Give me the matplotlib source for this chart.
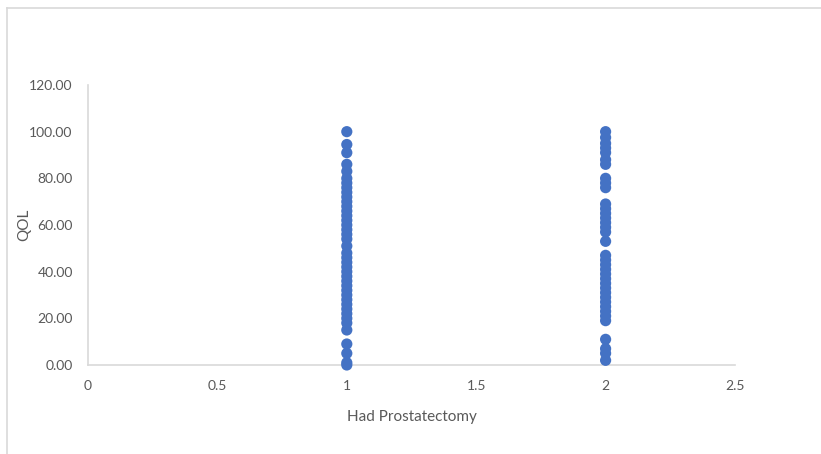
import matplotlib.pyplot as plt
from matplotlib.lines import Line2D

group1_qol = [100, 94.5, 91, 86, 83, 80, 78, 76, 74, 72, 70, 68, 66, 64, 62, 60, 58,
              56, 54, 51, 48, 46, 44, 42, 40, 38, 36, 34, 32, 30, 28, 26, 24, 22, 20,
              18, 15, 9, 5, 1, 0]
group2_qol = [100, 97.5, 95, 93, 91, 88, 86, 80, 78, 76, 69, 67, 65, 63, 61, 59, 57,
              53, 47, 45, 43, 41, 39, 37, 35, 33, 31, 29, 27, 25, 23, 21, 19, 11, 7,
              5, 2]
x_ticks = [0, 0.5, 1, 1.5, 2, 2.5]
y_ticks = [0, 20, 40, 60, 80, 100, 120]

plt.rcParams['font.family'] = ['Lato', 'DejaVu Sans']

fig = plt.figure(figsize=(8.21, 4.54), dpi=100)
ax = fig.add_axes([88 / 821, 1 - 365 / 454, (735 - 88) / 821, (365 - 85) / 454])

xs = [1] * len(group1_qol) + [2] * len(group2_qol)
ys = group1_qol + group2_qol
ax.scatter(xs, ys, s=65, color="#4472C4", edgecolors="none", zorder=3, clip_on=False)

ax.set_xlim(0, 2.5)
ax.set_ylim(0, 120)
ax.set_xticks(x_ticks)
ax.set_xticklabels([f"{t:g}" for t in x_ticks])
ax.set_yticks(y_ticks)
ax.set_yticklabels([f"{t:.2f}" for t in y_ticks])
ax.tick_params(length=0, labelsize=10, labelcolor="#595959")
ax.tick_params(axis="y", pad=11)
ax.tick_params(axis="x", pad=11)

for side in ["top", "right"]:
    ax.spines[side].set_visible(False)
for side in ["left", "bottom"]:
    ax.spines[side].set_color("#D9D9D9")
    ax.spines[side].set_linewidth(1.2)

ax.set_xlabel("Had Prostatectomy", fontsize=11, color="#595959")
ax.set_ylabel("QOL", fontsize=11, color="#595959")
ax.xaxis.set_label_coords(0.5, -0.16)
ax.yaxis.set_label_coords(-0.088, 0.5)

# outer frame
fig.add_artist(Line2D([7 / 821, 7 / 821], [0, 1 - 8 / 454], color="#D9D9D9", lw=1.2))
fig.add_artist(Line2D([7 / 821, 1], [1 - 8 / 454, 1 - 8 / 454], color="#D9D9D9", lw=1.2))

fig.savefig("out.png", dpi=100)
